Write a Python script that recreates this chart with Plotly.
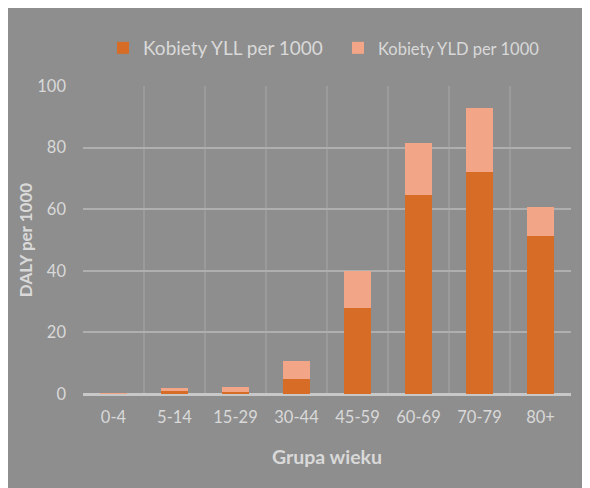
import plotly.graph_objects as go

categories = ["0-4", "5-14", "15-29", "30-44", "45-59", "60-69", "70-79", "80+"]
yll = [0.2, 1.0, 0.7, 4.9, 28.0, 64.6, 72.1, 51.3]
yld = [0.1, 1.0, 1.6, 5.8, 12.0, 16.9, 20.8, 9.4]
y_ticks = [0, 20, 40, 60, 80, 100]

BG = "#8E8E8E"
TXT = "#D9D9D9"
FONT = "Lato"

fig = go.Figure()
fig.add_trace(go.Bar(
    x=categories, y=yll, name="Kobiety YLL per 1000",
    marker=dict(color="#D66C25", line=dict(width=0)),
))
fig.add_trace(go.Bar(
    x=categories, y=yld,
    name="<span style='font-size:16.5px'>Kobiety YLD per 1000</span>",
    marker=dict(color="#F2A687", line=dict(width=0)),
))

W, H = 582, 480
L, T = 75, 78
R = W - 563
B = H - 386

fig.update_layout(
    width=W, height=H,
    margin=dict(l=L, r=R, t=T, b=B, autoexpand=False),
    paper_bgcolor=BG,
    plot_bgcolor=BG,
    barmode="stack",
    bargap=0.57,
    font=dict(family=FONT, color=TXT, size=16),
    legend=dict(
        orientation="h", xref="container", yref="container",
        x=95 / W, y=1 - 40 / H, xanchor="left", yanchor="middle",
        font=dict(size=19, color=TXT, family=FONT),
        bgcolor="rgba(0,0,0,0)", traceorder="normal",
        itemwidth=30, entrywidth=190, entrywidthmode="pixels",
    ),
    xaxis=dict(
        type="category", tickson="boundaries",
        showgrid=True, gridcolor="#9B9B9B", gridwidth=1.5,
        ticks="", showline=False,
        tickfont=dict(size=16.5, color=TXT, family=FONT),
        ticklabelstandoff=11,
        title=dict(text="<b>Grupa wieku</b>", font=dict(size=19.5, color=TXT, family=FONT), standoff=24),
    ),
    yaxis=dict(
        range=[0, 100], tickvals=y_ticks,
        showgrid=True, gridcolor="#AFAFAF", gridwidth=1.5,
        zeroline=True, zerolinecolor="#C8C8C8", zerolinewidth=2.5,
        ticks="", showline=False,
        tickfont=dict(size=16.5, color=TXT, family=FONT),
        ticklabelstandoff=16,
        title=dict(text="<b>DALY per 1000</b>", font=dict(size=17, color=TXT, family=FONT), standoff=0),
    ),
)

fig.write_html("out.html")
